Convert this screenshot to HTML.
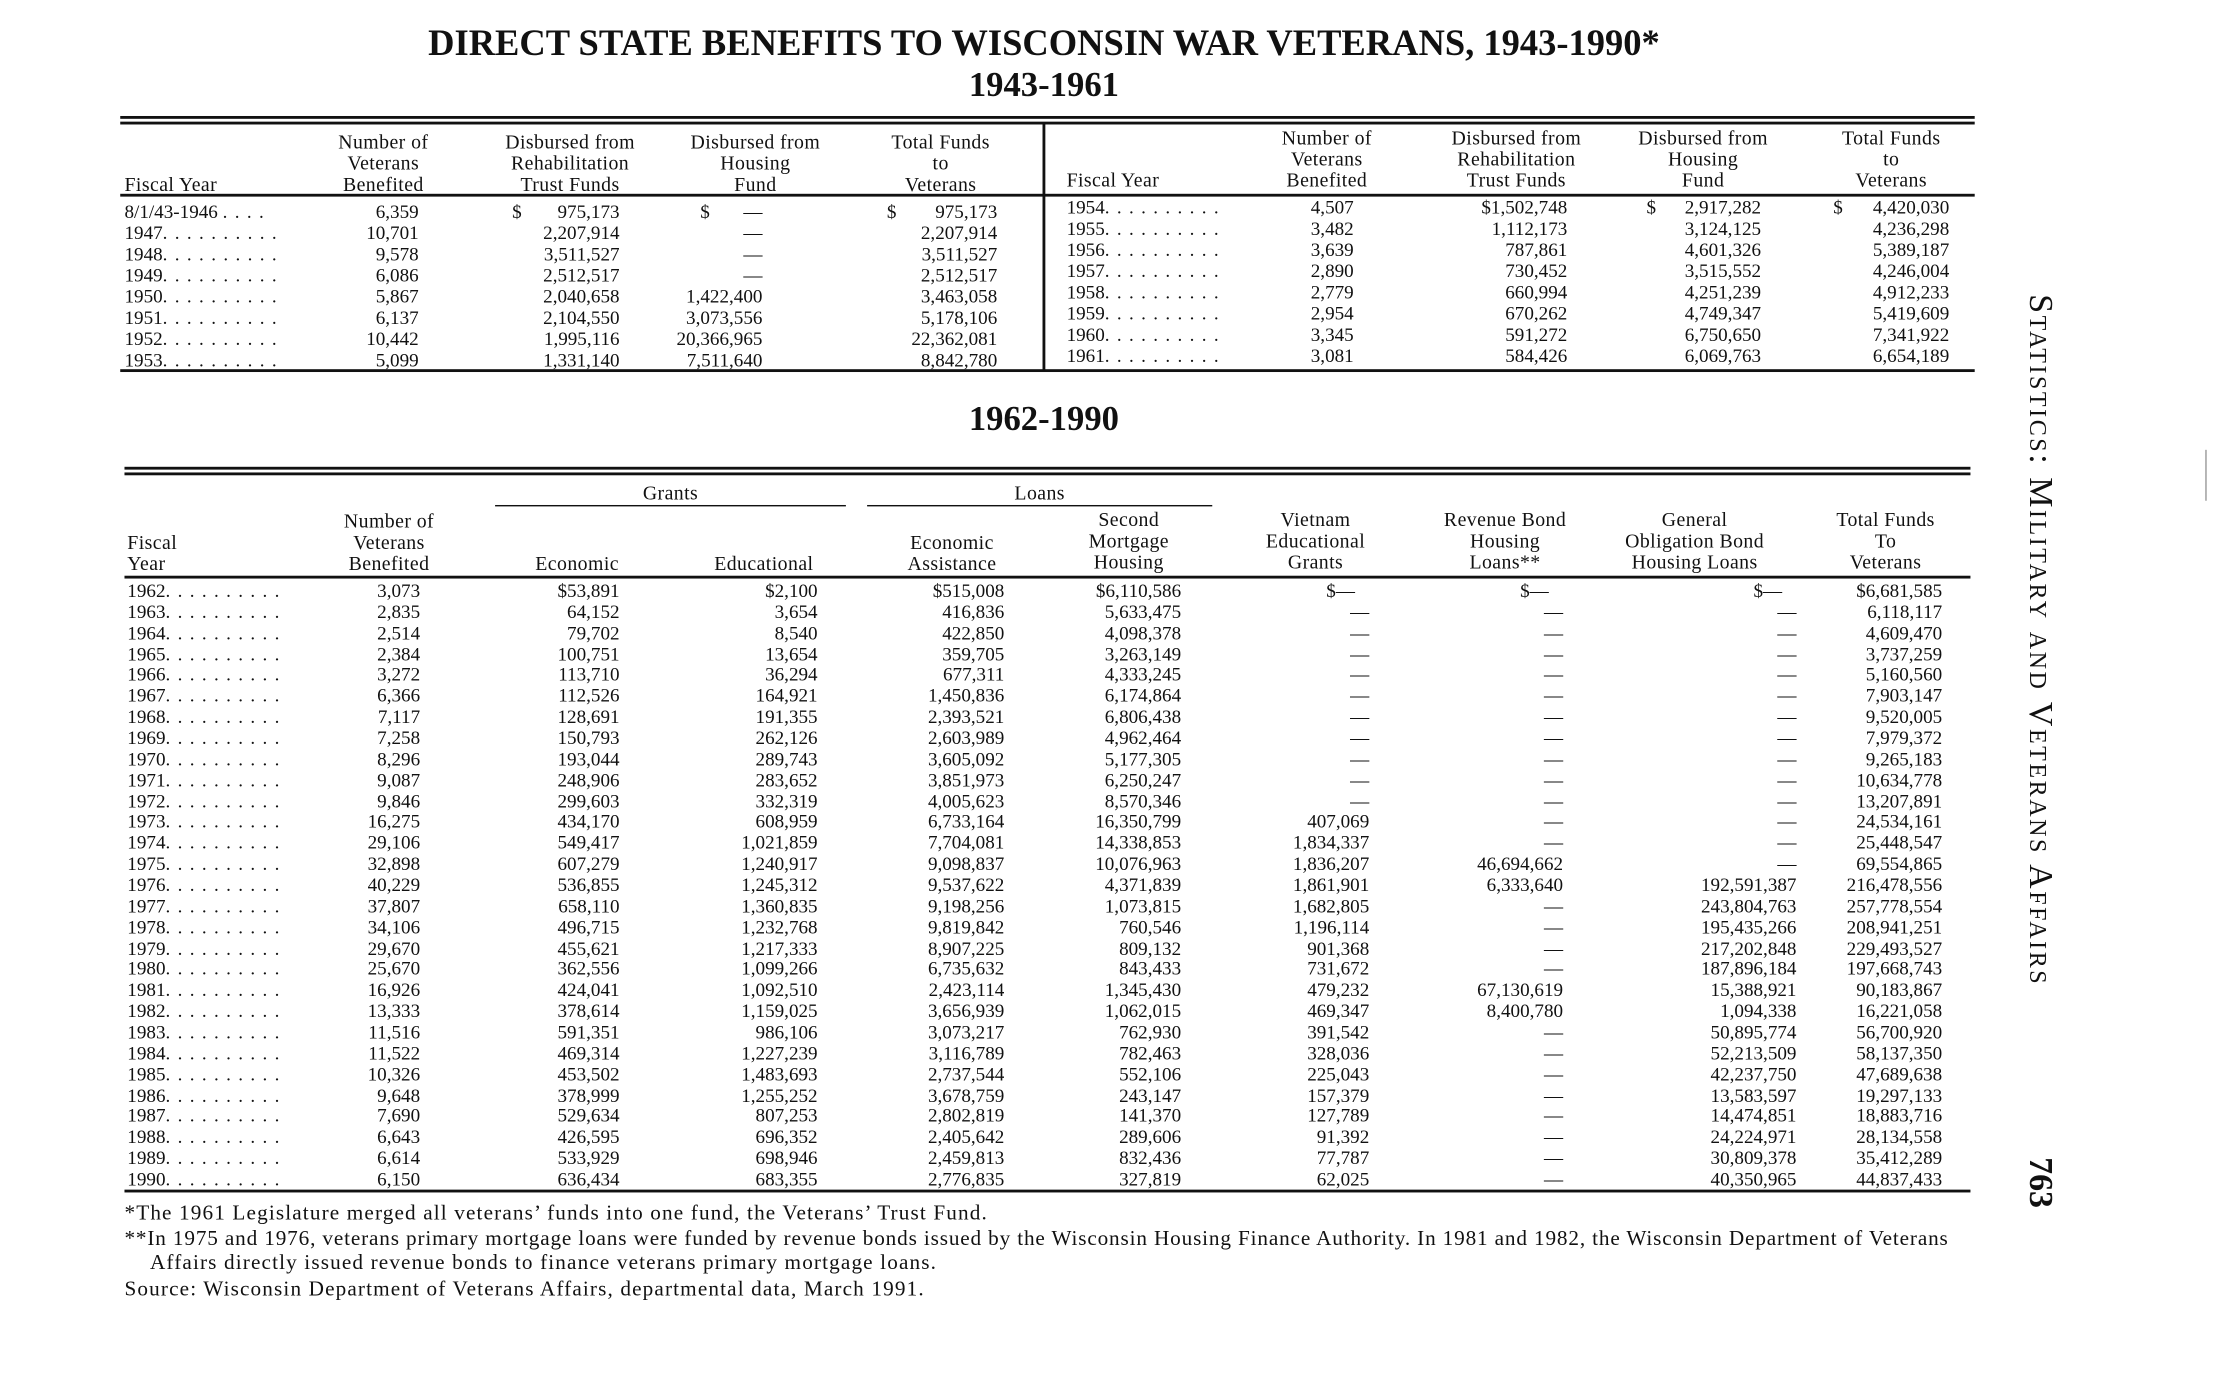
<!DOCTYPE html>
<html><head><meta charset="utf-8">
<style>
html,body{margin:0;padding:0;background:#fff;}
#wrap{width:2218px;height:1380px;overflow:hidden;position:relative;background:#fff;}
#pg{position:absolute;left:0;top:0;width:1568px;height:976px;transform:scale(1.41454);transform-origin:0 0;font-family:"Liberation Serif",serif;color:#111;}
.a{position:absolute;white-space:nowrap;}
.c{position:absolute;white-space:nowrap;font-size:13.5px;line-height:15px;}
.b{position:absolute;white-space:nowrap;font-size:13.5px;line-height:14.86px;}
.r{text-align:right;}
.h{position:absolute;font-size:14px;line-height:15px;text-align:center;white-space:nowrap;letter-spacing:0.3px;}
.rule{position:absolute;background:#111;}
.d{letter-spacing:5.2px;}
.fn{position:absolute;white-space:nowrap;font-size:15px;letter-spacing:0.8px;}
</style></head><body><div id="wrap"><div id="pg">

<div class="a" style="left:0;width:1476px;top:16px;text-align:center;font-weight:bold;font-size:25.8px;">DIRECT STATE BENEFITS TO WISCONSIN WAR VETERANS, 1943-1990*</div>
<div class="a" style="left:0;width:1476px;top:47px;text-align:center;font-weight:bold;font-size:24.5px;">1943-1961</div>

<div class="rule" style="left:85px;width:1311px;top:82px;height:2px"></div>
<div class="rule" style="left:85px;width:1311px;top:86px;height:1.5px"></div>
<div class="rule" style="left:85px;width:1311px;top:137px;height:1.5px"></div>
<div class="rule" style="left:85px;width:1311px;top:261px;height:1.5px"></div>
<div class="rule" style="left:737px;width:1.5px;top:87px;height:175px"></div>

<div class="h" style="left:88px;top:124px;text-align:left">Fiscal Year</div>
<div class="h" style="left:211px;width:120px;top:94px">Number of<br>Veterans<br>Benefited</div>
<div class="h" style="left:343px;width:120px;top:94px">Disbursed from<br>Rehabilitation<br>Trust Funds</div>
<div class="h" style="left:474px;width:120px;top:94px">Disbursed from<br>Housing<br>Fund</div>
<div class="h" style="left:605px;width:120px;top:94px">Total Funds<br>to<br>Veterans</div>
<div class="h" style="left:754px;top:121px;text-align:left">Fiscal Year</div>
<div class="h" style="left:878px;width:120px;top:91px">Number of<br>Veterans<br>Benefited</div>
<div class="h" style="left:1012px;width:120px;top:91px">Disbursed from<br>Rehabilitation<br>Trust Funds</div>
<div class="h" style="left:1144px;width:120px;top:91px">Disbursed from<br>Housing<br>Fund</div>
<div class="h" style="left:1277px;width:120px;top:91px">Total Funds<br>to<br>Veterans</div>

<div class="c" style="left:88px;top:141.5px">8/1/43-1946 <span class="d">....</span><br>1947<span class="d">..........</span><br>1948<span class="d">..........</span><br>1949<span class="d">..........</span><br>1950<span class="d">..........</span><br>1951<span class="d">..........</span><br>1952<span class="d">..........</span><br>1953<span class="d">..........</span></div>
<div class="c r" style="left:200px;width:96px;top:141.5px">6,359<br>10,701<br>9,578<br>6,086<br>5,867<br>6,137<br>10,442<br>5,099</div>
<div class="c" style="left:362px;top:141.5px">$</div>
<div class="c r" style="left:340px;width:98px;top:141.5px">975,173<br>2,207,914<br>3,511,527<br>2,512,517<br>2,040,658<br>2,104,550<br>1,995,116<br>1,331,140</div>
<div class="c" style="left:495px;top:141.5px">$</div>
<div class="c r" style="left:440px;width:99px;top:141.5px">—<br>—<br>—<br>—<br>1,422,400<br>3,073,556<br>20,366,965<br>7,511,640</div>
<div class="c" style="left:627px;top:141.5px">$</div>
<div class="c r" style="left:600px;width:105px;top:141.5px">975,173<br>2,207,914<br>3,511,527<br>2,512,517<br>3,463,058<br>5,178,106<br>22,362,081<br>8,842,780</div>

<div class="c" style="left:754px;top:139px">1954<span class="d">..........</span><br>1955<span class="d">..........</span><br>1956<span class="d">..........</span><br>1957<span class="d">..........</span><br>1958<span class="d">..........</span><br>1959<span class="d">..........</span><br>1960<span class="d">..........</span><br>1961<span class="d">..........</span></div>
<div class="c r" style="left:880px;width:77px;top:139px">4,507<br>3,482<br>3,639<br>2,890<br>2,779<br>2,954<br>3,345<br>3,081</div>
<div class="c r" style="left:1000px;width:108px;top:139px">$1,502,748<br>1,112,173<br>787,861<br>730,452<br>660,994<br>670,262<br>591,272<br>584,426</div>
<div class="c" style="left:1164px;top:139px">$</div>
<div class="c r" style="left:1140px;width:105px;top:139px">2,917,282<br>3,124,125<br>4,601,326<br>3,515,552<br>4,251,239<br>4,749,347<br>6,750,650<br>6,069,763</div>
<div class="c" style="left:1296px;top:139px">$</div>
<div class="c r" style="left:1270px;width:108px;top:139px">4,420,030<br>4,236,298<br>5,389,187<br>4,246,004<br>4,912,233<br>5,419,609<br>7,341,922<br>6,654,189</div>

<div class="a" style="left:0;width:1476px;top:283px;text-align:center;font-weight:bold;font-size:24.5px;">1962-1990</div>

<div class="rule" style="left:88px;width:1305px;top:330px;height:2px"></div>
<div class="rule" style="left:88px;width:1305px;top:334px;height:1.5px"></div>
<div class="rule" style="left:350px;width:248px;top:357px;height:1.2px"></div>
<div class="rule" style="left:613px;width:244px;top:357px;height:1.2px"></div>
<div class="rule" style="left:88px;width:1305px;top:407px;height:1.8px"></div>
<div class="rule" style="left:88px;width:1305px;top:841px;height:1.5px"></div>

<div class="h" style="left:414px;width:120px;top:342px">Grants</div>
<div class="h" style="left:675px;width:120px;top:342px">Loans</div>
<div class="h" style="left:90px;top:377px;text-align:left">Fiscal<br>Year</div>
<div class="h" style="left:215px;width:120px;top:362px">Number of<br>Veterans<br>Benefited</div>
<div class="h" style="left:348px;width:120px;top:392px">Economic</div>
<div class="h" style="left:480px;width:120px;top:392px">Educational</div>
<div class="h" style="left:613px;width:120px;top:377px">Economic<br>Assistance</div>
<div class="h" style="left:738px;width:120px;top:361px">Second<br>Mortgage<br>Housing</div>
<div class="h" style="left:870px;width:120px;top:361px">Vietnam<br>Educational<br>Grants</div>
<div class="h" style="left:1004px;width:120px;top:361px">Revenue Bond<br>Housing<br>Loans**</div>
<div class="h" style="left:1138px;width:120px;top:361px">General<br>Obligation Bond<br>Housing Loans</div>
<div class="h" style="left:1273px;width:120px;top:361px">Total Funds<br>To<br>Veterans</div>

<div class="b" style="left:90px;top:411px">1962<span class="d">..........</span><br>1963<span class="d">..........</span><br>1964<span class="d">..........</span><br>1965<span class="d">..........</span><br>1966<span class="d">..........</span><br>1967<span class="d">..........</span><br>1968<span class="d">..........</span><br>1969<span class="d">..........</span><br>1970<span class="d">..........</span><br>1971<span class="d">..........</span><br>1972<span class="d">..........</span><br>1973<span class="d">..........</span><br>1974<span class="d">..........</span><br>1975<span class="d">..........</span><br>1976<span class="d">..........</span><br>1977<span class="d">..........</span><br>1978<span class="d">..........</span><br>1979<span class="d">..........</span><br>1980<span class="d">..........</span><br>1981<span class="d">..........</span><br>1982<span class="d">..........</span><br>1983<span class="d">..........</span><br>1984<span class="d">..........</span><br>1985<span class="d">..........</span><br>1986<span class="d">..........</span><br>1987<span class="d">..........</span><br>1988<span class="d">..........</span><br>1989<span class="d">..........</span><br>1990<span class="d">..........</span></div>
<div class="b r" style="left:200px;width:97px;top:411px">3,073<br>2,835<br>2,514<br>2,384<br>3,272<br>6,366<br>7,117<br>7,258<br>8,296<br>9,087<br>9,846<br>16,275<br>29,106<br>32,898<br>40,229<br>37,807<br>34,106<br>29,670<br>25,670<br>16,926<br>13,333<br>11,516<br>11,522<br>10,326<br>9,648<br>7,690<br>6,643<br>6,614<br>6,150</div>
<div class="b r" style="left:340px;width:98px;top:411px">$53,891<br>64,152<br>79,702<br>100,751<br>113,710<br>112,526<br>128,691<br>150,793<br>193,044<br>248,906<br>299,603<br>434,170<br>549,417<br>607,279<br>536,855<br>658,110<br>496,715<br>455,621<br>362,556<br>424,041<br>378,614<br>591,351<br>469,314<br>453,502<br>378,999<br>529,634<br>426,595<br>533,929<br>636,434</div>
<div class="b r" style="left:470px;width:108px;top:411px">$2,100<br>3,654<br>8,540<br>13,654<br>36,294<br>164,921<br>191,355<br>262,126<br>289,743<br>283,652<br>332,319<br>608,959<br>1,021,859<br>1,240,917<br>1,245,312<br>1,360,835<br>1,232,768<br>1,217,333<br>1,099,266<br>1,092,510<br>1,159,025<br>986,106<br>1,227,239<br>1,483,693<br>1,255,252<br>807,253<br>696,352<br>698,946<br>683,355</div>
<div class="b r" style="left:600px;width:110px;top:411px">$515,008<br>416,836<br>422,850<br>359,705<br>677,311<br>1,450,836<br>2,393,521<br>2,603,989<br>3,605,092<br>3,851,973<br>4,005,623<br>6,733,164<br>7,704,081<br>9,098,837<br>9,537,622<br>9,198,256<br>9,819,842<br>8,907,225<br>6,735,632<br>2,423,114<br>3,656,939<br>3,073,217<br>3,116,789<br>2,737,544<br>3,678,759<br>2,802,819<br>2,405,642<br>2,459,813<br>2,776,835</div>
<div class="b r" style="left:720px;width:115px;top:411px">$6,110,586<br>5,633,475<br>4,098,378<br>3,263,149<br>4,333,245<br>6,174,864<br>6,806,438<br>4,962,464<br>5,177,305<br>6,250,247<br>8,570,346<br>16,350,799<br>14,338,853<br>10,076,963<br>4,371,839<br>1,073,815<br>760,546<br>809,132<br>843,433<br>1,345,430<br>1,062,015<br>762,930<br>782,463<br>552,106<br>243,147<br>141,370<br>289,606<br>832,436<br>327,819</div>
<div class="b r" style="left:850px;width:118px;top:411px">$—&nbsp;&nbsp;&nbsp;<br>—<br>—<br>—<br>—<br>—<br>—<br>—<br>—<br>—<br>—<br>407,069<br>1,834,337<br>1,836,207<br>1,861,901<br>1,682,805<br>1,196,114<br>901,368<br>731,672<br>479,232<br>469,347<br>391,542<br>328,036<br>225,043<br>157,379<br>127,789<br>91,392<br>77,787<br>62,025</div>
<div class="b r" style="left:990px;width:115px;top:411px">$—&nbsp;&nbsp;&nbsp;<br>—<br>—<br>—<br>—<br>—<br>—<br>—<br>—<br>—<br>—<br>—<br>—<br>46,694,662<br>6,333,640<br>—<br>—<br>—<br>—<br>67,130,619<br>8,400,780<br>—<br>—<br>—<br>—<br>—<br>—<br>—<br>—</div>
<div class="b r" style="left:1140px;width:130px;top:411px">$—&nbsp;&nbsp;&nbsp;<br>—<br>—<br>—<br>—<br>—<br>—<br>—<br>—<br>—<br>—<br>—<br>—<br>—<br>192,591,387<br>243,804,763<br>195,435,266<br>217,202,848<br>187,896,184<br>15,388,921<br>1,094,338<br>50,895,774<br>52,213,509<br>42,237,750<br>13,583,597<br>14,474,851<br>24,224,971<br>30,809,378<br>40,350,965</div>
<div class="b r" style="left:1260px;width:113px;top:411px">$6,681,585<br>6,118,117<br>4,609,470<br>3,737,259<br>5,160,560<br>7,903,147<br>9,520,005<br>7,979,372<br>9,265,183<br>10,634,778<br>13,207,891<br>24,534,161<br>25,448,547<br>69,554,865<br>216,478,556<br>257,778,554<br>208,941,251<br>229,493,527<br>197,668,743<br>90,183,867<br>16,221,058<br>56,700,920<br>58,137,350<br>47,689,638<br>19,297,133<br>18,883,716<br>28,134,558<br>35,412,289<br>44,837,433</div>

<div class="fn" style="left:88px;top:850px;">*The 1961 Legislature merged all veterans’ funds into one fund, the Veterans’ Trust Fund.</div>
<div class="fn" style="left:88px;top:868px;letter-spacing:0.6px;">**In 1975 and 1976, veterans primary mortgage loans were funded by revenue bonds issued by the Wisconsin Housing Finance Authority. In 1981 and 1982, the Wisconsin Department of Veterans</div>
<div class="fn" style="left:106px;top:885px;">Affairs directly issued revenue bonds to finance veterans primary mortgage loans.</div>
<div class="fn" style="left:88px;top:904px;">Source: Wisconsin Department of Veterans Affairs, departmental data, March 1991.</div>

<div class="a" style="left:1455px;top:208px;transform:rotate(90deg);transform-origin:0 0;font-size:24px;font-variant:small-caps;letter-spacing:1.8px;">Statistics: Military and Veterans Affairs</div>
<div class="a" style="left:1455px;top:818px;transform:rotate(90deg);transform-origin:0 0;font-size:24px;font-weight:bold;">763</div>
<div class="rule" style="left:1559px;width:1px;top:318px;height:36px;background:#999"></div>

</div></div></body></html>
